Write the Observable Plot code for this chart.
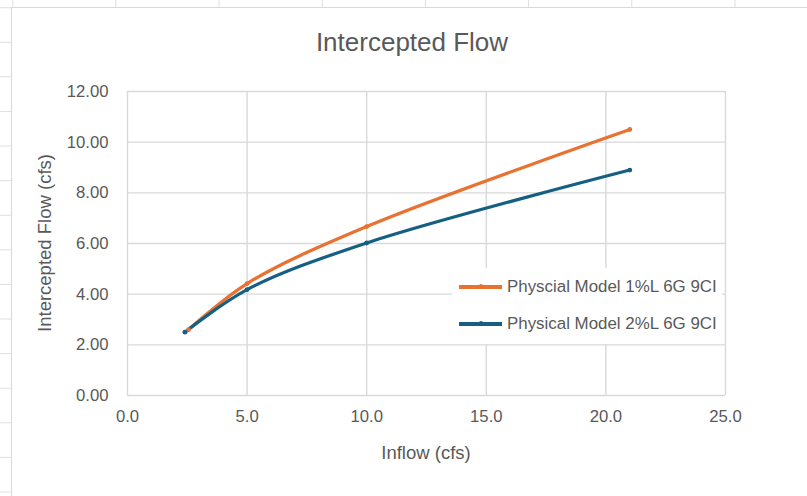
<!DOCTYPE html>
<html>
<head>
<meta charset="utf-8">
<script src="https://cdn.jsdelivr.net/npm/d3@7"></script>
<script src="https://cdn.jsdelivr.net/npm/@observablehq/plot@0.6"></script>
<style>
  html, body { margin: 0; padding: 0; }
  body {
    width: 807px; height: 496px; overflow: hidden; position: relative;
    font-family: "Liberation Sans", Arial, sans-serif;
    background-color: #ffffff;
    background-image:
      linear-gradient(to right, #dedede 1px, transparent 1px),
      linear-gradient(to bottom, #dedede 1px, transparent 1px);
    background-size: 103.2px 34.6px;
    background-position: 12.2px 7.2px;
  }
  #chartArea {
    position: absolute; left: 11px; top: 7px; right: -5px; bottom: -5px;
    background: #ffffff; border-left: 1.5px solid #d9d9d9; border-top: 1.5px solid #d9d9d9;
  }
  #plot { position: absolute; left: 0; top: 0; }
  .ttl { position: absolute; color: #595959; white-space: nowrap; }
  #title { left: 412px; top: 42px; transform: translate(-50%, -50%); font-size: 26px; }
  #xtitle { left: 426px; top: 453px; transform: translate(-50%, -50%); font-size: 18.5px; }
  #ytitle { left: 45px; top: 243px; transform: translate(-50%, -50%) rotate(-90deg); font-size: 18.5px; }
  #legend { position: absolute; left: 452px; top: 268px; width: 270px; height: 76px; background: #fff; }
  .item { position: absolute; left: 7px; height: 20px; display: flex; align-items: center; font-size: 16.9px; color: #595959; white-space: nowrap; }
  .swatch { position: relative; width: 43px; height: 3.2px; margin-right: 5px; }
  .swatch::after { content: ""; position: absolute; left: 19.5px; top: -1.5px; width: 4px; height: 4px; border-radius: 50%; background: inherit; }
</style>
</head>
<body>
<div id="chartArea"></div>
<div id="plot"></div>
<div id="title" class="ttl">Intercepted Flow</div>
<div id="xtitle" class="ttl">Inflow (cfs)</div>
<div id="ytitle" class="ttl">Intercepted Flow (cfs)</div>
<div id="legend"></div>
<script>
const seriesNames = ["Physcial Model 1%L 6G 9CI", "Physical Model 2%L 6G 9CI"];
const seriesColors = ["#E97132", "#156082"];
const inflow1 = [2.55, 5.0, 10.0, 21.0];
const intercepted1 = [2.6, 4.42, 6.67, 10.5];
const inflow2 = [2.4, 5.0, 10.0, 21.0];
const intercepted2 = [2.5, 4.18, 6.02, 8.9];
const xTicks = [0, 5, 10, 15, 20, 25];
const yTicks = [0, 2, 4, 6, 8, 10, 12];

const data = [
  ...inflow1.map((x, i) => ({series: seriesNames[0], x, y: intercepted1[i]})),
  ...inflow2.map((x, i) => ({series: seriesNames[1], x, y: intercepted2[i]}))
];

const chart = Plot.plot({
  width: 807, height: 496,
  marginLeft: 127, marginRight: 82, marginTop: 91, marginBottom: 101,
  style: {fontFamily: '"Liberation Sans", Arial, sans-serif', fontSize: "16.7px", color: "#595959", background: "transparent"},
  x: {domain: [0, 25]},
  y: {domain: [0, 12]},
  color: {domain: seriesNames, range: seriesColors},
  marks: [
    Plot.gridX(xTicks, {stroke: "#d9d9d9", strokeOpacity: 1, strokeWidth: 1.4}),
    Plot.gridY(yTicks, {stroke: "#d9d9d9", strokeOpacity: 1, strokeWidth: 1.4}),
    Plot.axisX(xTicks, {tickSize: 0, tickPadding: 15, tickFormat: d => d.toFixed(1), label: null, fill: "#595959"}),
    Plot.axisY(yTicks, {tickSize: 0, tickPadding: 19, tickFormat: d => d.toFixed(2), label: null, fill: "#595959"}),
    Plot.line(data, {x: "x", y: "y", z: "series", stroke: "series", curve: "catmull-rom", strokeWidth: 3.2, strokeLinecap: "round", strokeLinejoin: "round"}),
    Plot.dot(data, {x: "x", y: "y", fill: "series", r: 2.4})
  ]
});
document.getElementById("plot").appendChild(chart);

const legend = document.getElementById("legend");
seriesNames.forEach((name, i) => {
  const item = document.createElement("div");
  item.className = "item";
  item.style.top = (9 + i * 37) + "px";
  const sw = document.createElement("div");
  sw.className = "swatch";
  sw.style.background = seriesColors[i];
  item.appendChild(sw);
  const t = document.createElement("span");
  t.textContent = name;
  item.appendChild(t);
  legend.appendChild(item);
});
</script>
</body>
</html>
